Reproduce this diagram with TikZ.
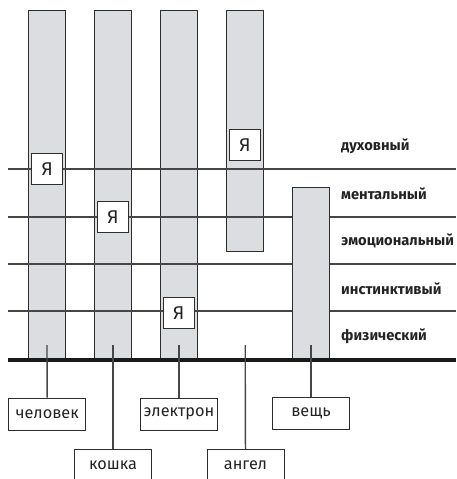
\documentclass[tikz,border=0pt]{standalone}
\usepackage{fontspec}
\setmainfont{Fira Sans}
\usepackage{tikz}
\usetikzlibrary{positioning,calc}
\definecolor{barfill}{RGB}{220,221,224}
\definecolor{barline}{RGB}{45,45,45}
\definecolor{levelline}{RGB}{70,70,70}
\definecolor{txtgray}{RGB}{35,35,35}

\begin{document}
\begin{tikzpicture}[x=1pt, y=-1pt,
    bar/.style={rectangle, draw=barline, fill=barfill, line width=1pt, minimum width=37pt, inner sep=0pt, outer sep=0pt},
    level/.style={draw=levelline, line width=1.4pt},
    ego/.style={rectangle, draw=barline, fill=white, line width=1pt, minimum width=31pt, minimum height=31pt, inner sep=0pt, font=\fontsize{18.5}{19}\selectfont, text=txtgray},
    levellabel/.style={anchor=west, inner sep=0pt, font=\fontsize{14.7}{15}\selectfont\bfseries, text=txtgray},
    namebox/.style={rectangle, draw=barline, fill=white, line width=1pt, minimum width=77pt, minimum height=32pt, inner sep=0pt, font=\fontsize{16.3}{17}\selectfont, text=txtgray},
    tick/.style={draw=levelline, line width=1.4pt},
    ground/.style={draw=black!90, line width=4.8pt}
]
\useasboundingbox (0,0) rectangle (456,479);
\clip (0,0) rectangle (456,479);

% bars
\node[bar, minimum height=347.5pt] (chel) at (47,184.25) {};
\node[bar, minimum height=347.5pt] (cat) at (113,184.25) {};
\node[bar, minimum height=347.5pt] (elec) at (179,184.25) {};
\node[bar, minimum height=241.2pt] (angel) at (245.2,131.1) {};

% levels
\foreach \y in {169,217,264,311}
  \draw[level] (8.3,\y) -- (456,\y);

\node[levellabel] (l1) at (341,146.7) {духовный};
\node[levellabel] (l2) at (341,194) {ментальный};
\node[levellabel] (l3) at (341,241.2) {эмоциональный};
\node[levellabel] (l4) at (341,288.3) {инстинктивый};
\node[levellabel] (l5) at (341,336.7) {физический};

% thing sits over the levels
\node[bar, minimum height=170.3pt] (thing) at (311,273) {};

% the "I" boxes
\node[ego] (ego1) at (47.2,169.3) {Я};
\node[ego] (ego2) at (113,216.8) {Я};
\node[ego] (ego3) at (178.8,312.8) {Я};
\node[ego] (ego4) at (245,145.3) {Я};

% ground
\draw[ground] (8.3,360) -- (456,360);

% names
\coordinate (tk) at (0,345);
\node[namebox] (nchel) at (47.2,414.2) {человек};
\node[namebox] (ncat) at (113,465.3) {кошка};
\node[namebox] (nelec) at (179,414.2) {электрон};
\node[namebox] (nangel) at (245.5,465.3) {ангел};
\node[namebox] (nthing) at (311,413.5) {вещь};

\draw[tick] (chel |- tk) -- (nchel);
\draw[tick] (cat |- tk) -- (ncat);
\draw[tick] (elec |- tk) -- (nelec);
\draw[tick] (angel |- tk) -- (nangel);
\draw[tick] (thing |- tk) -- (nthing);

\end{tikzpicture}
\end{document}
